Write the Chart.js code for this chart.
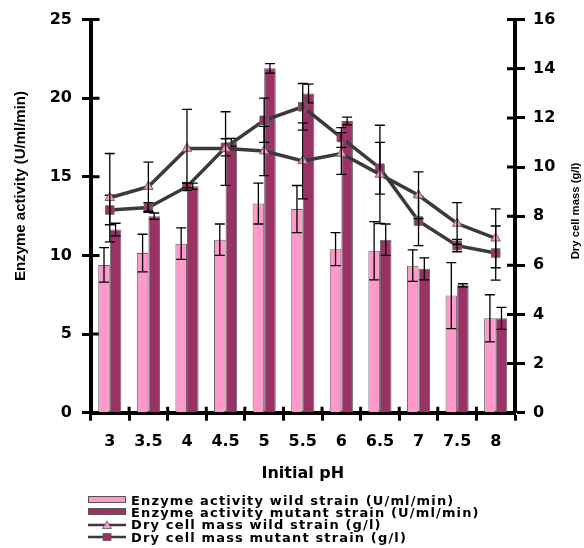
<!DOCTYPE html>
<html lang="en">
<head>
    <meta charset="UTF-8">
    <title>Enzyme activity and dry cell mass vs initial pH</title>
    <style>
        body { margin: 0; background: #fff; }
        #wrap { position: relative; width: 584px; height: 548px; }
        #legend {
            position: absolute; left: 88px; top: 494px;
            font: bold 13px "DejaVu Sans", sans-serif; letter-spacing: 1.15px; color: #000;
        }
        .row { display: flex; align-items: center; height: 12.3px; white-space: nowrap; }
        .row svg { margin-right: 5px; flex: none; }
    </style>
</head>
<body>
<div id="wrap">
    <canvas id="phChart"></canvas>
    <div id="legend"></div>
</div>

<script src="https://cdn.jsdelivr.net/npm/chart.js"></script>
<script>
    // values
    const phLabels = ['3', '3.5', '4', '4.5', '5', '5.5', '6', '6.5', '7', '7.5', '8'];

    const wildActivity      = [9.4, 10.15, 10.75, 11.0, 13.3, 12.95, 10.4, 10.3, 9.35, 7.45, 6.0];
    const wildActivityErr   = [1.1, 1.2, 1.0, 1.0, 1.3, 1.5, 1.05, 1.85, 1.0, 2.1, 1.5];
    const mutantActivity    = [11.65, 12.5, 14.4, 17.2, 21.9, 20.3, 18.55, 11.0, 9.15, 8.1, 6.0];
    const mutantActivityErr = [0.4, 0.2, 0.2, 0.25, 0.3, 0.6, 0.25, 1.0, 0.7, 0.1, 0.7];

    const wildMass      = [8.75, 9.2, 10.75, 10.75, 10.65, 10.25, 10.55, 9.7, 8.85, 7.7, 7.1];
    const wildMassErr   = [1.8, 1.0, 1.6, 1.5, 1.0, 1.55, 0.85, 2.0, 0.95, 0.85, 1.2];
    const mutantMass    = [8.25, 8.35, 9.2, 10.8, 11.9, 12.45, 11.2, 9.95, 7.8, 6.8, 6.5];
    const mutantMassErr = [0.6, 0.2, 0.15, 0.35, 0.9, 0.95, 0.4, 1.05, 1.0, 0.25, 1.1];

    const pink = '#ff99cc';
    const maroon = '#993366';
    const lineGrey = '#3a3a3a';

    // draws the error bars of each dataset right after it
    const errorBars = {
        id: 'errorBars',
        afterDatasetDraw(chart, args) {
            const ds = chart.data.datasets[args.index];
            if (!ds.errors) return;
            const scale = chart.scales[ds.yAxisID || 'y'];
            const ctx = chart.ctx;
            ctx.save();
            ctx.strokeStyle = '#000';
            ctx.lineWidth = 1.3;
            ctx.beginPath();
            args.meta.data.forEach((el, i) => {
                const v = ds.data[i], e = ds.errors[i];
                const top = scale.getPixelForValue(v + e);
                const bot = scale.getPixelForValue(v - e);
                ctx.moveTo(el.x, top); ctx.lineTo(el.x, bot);
                ctx.moveTo(el.x - 5, top); ctx.lineTo(el.x + 5, top);
                ctx.moveTo(el.x - 5, bot); ctx.lineTo(el.x + 5, bot);
            });
            ctx.stroke();
            ctx.restore();
        }
    };

    // tick marks that cross the axis lines
    const innerTicks = {
        id: 'innerTicks',
        beforeDatasetsDraw(chart) {
            const {ctx, chartArea, scales} = chart;
            ctx.save();
            ctx.strokeStyle = '#000';
            ctx.lineWidth = 3;
            ctx.beginPath();
            scales.y.ticks.forEach((t, i) => {
                const py = scales.y.getPixelForTick(i);
                ctx.moveTo(chartArea.left, py); ctx.lineTo(chartArea.left + 9, py);
            });
            scales.y1.ticks.forEach((t, i) => {
                const py = scales.y1.getPixelForTick(i);
                ctx.moveTo(chartArea.right, py); ctx.lineTo(chartArea.right - 8, py);
            });
            for (let i = 0; i <= phLabels.length; i++) {
                const px = scales.x.getPixelForValue(i - 0.5);
                ctx.moveTo(px, chartArea.bottom); ctx.lineTo(px, chartArea.bottom - 6);
            }
            ctx.stroke();
            ctx.restore();
        }
    };

    // axis titles
    const axisTitles = {
        id: 'axisTitles',
        afterDraw(chart) {
            const {ctx, chartArea} = chart;
            ctx.save();
            ctx.fillStyle = '#000';
            ctx.textAlign = 'center';
            ctx.textBaseline = 'middle';
            ctx.font = 'bold 16px "DejaVu Sans"';
            ctx.fillText('Initial pH', (chartArea.left + chartArea.right) / 2, chartArea.bottom + 61);

            ctx.font = 'bold 15px "Liberation Sans"';
            ctx.translate(21, 186);
            ctx.rotate(-Math.PI / 2);
            ctx.fillText('Enzyme activity (U/ml/min)', 0, 0);
            ctx.restore();

            ctx.save();
            ctx.fillStyle = '#000';
            ctx.textAlign = 'center';
            ctx.textBaseline = 'middle';
            ctx.font = 'bold 11.3px "Liberation Sans"';
            ctx.translate(576, 211);
            ctx.rotate(-Math.PI / 2);
            ctx.fillText('Dry cell mass (g/l)', 0, 0);
            ctx.restore();
        }
    };

    Chart.defaults.font.family = '"DejaVu Sans", sans-serif';
    Chart.defaults.font.weight = 'bold';
    Chart.defaults.font.size = 16;
    Chart.defaults.color = '#000';

    const datasets = [
        {
            type: 'bar', label: 'Enzyme activity wild strain (U/ml/min)',
            data: wildActivity, errors: wildActivityErr,
            backgroundColor: pink, borderColor: '#666', borderWidth: 1,
            yAxisID: 'y', order: 2,
            barPercentage: 1, categoryPercentage: 0.6
        },
        {
            type: 'bar', label: 'Enzyme activity mutant strain (U/ml/min)',
            data: mutantActivity, errors: mutantActivityErr,
            backgroundColor: maroon, borderColor: '#666', borderWidth: 1,
            yAxisID: 'y', order: 2,
            barPercentage: 1, categoryPercentage: 0.6
        },
        {
            type: 'line', label: 'Dry cell mass wild strain (g/l)',
            data: wildMass, errors: wildMassErr,
            borderColor: lineGrey, borderWidth: 3.5,
            pointStyle: 'triangle', pointRadius: 5.5,
            pointBackgroundColor: pink, pointBorderColor: '#666', pointBorderWidth: 1,
            yAxisID: 'y1', order: 1
        },
        {
            type: 'line', label: 'Dry cell mass mutant strain (g/l)',
            data: mutantMass, errors: mutantMassErr,
            borderColor: lineGrey, borderWidth: 3.5,
            pointStyle: 'rect', pointRadius: 6,
            pointBackgroundColor: maroon, pointBorderColor: '#666', pointBorderWidth: 1,
            yAxisID: 'y1', order: 1
        }
    ];

    new Chart(document.getElementById('phChart'), {
        data: { labels: phLabels, datasets: datasets },
        options: {
            responsive: true,
            maintainAspectRatio: false,
            animation: false,
            layout: { padding: { top: 19, left: 0, right: 0, bottom: 0 } },
            plugins: { legend: { display: false }, tooltip: { enabled: false } },
            scales: {
                x: {
                    offset: true,
                    grid: { offset: true, drawOnChartArea: false, tickLength: 8, tickWidth: 3, tickColor: '#000' },
                    border: { color: '#000', width: 4 },
                    ticks: { padding: 12, maxRotation: 0 },
                    afterFit: s => { s.height = 135.3; }
                },
                y: {
                    position: 'left', min: 0, max: 25,
                    grid: { drawOnChartArea: false, tickLength: 8.5, tickWidth: 3, tickColor: '#000' },
                    border: { color: '#000', width: 4 },
                    ticks: { stepSize: 5, padding: 10 },
                    afterFit: s => { s.width = 90.5; }
                },
                y1: {
                    position: 'right', min: 0, max: 16,
                    grid: { drawOnChartArea: false, tickLength: 10, tickWidth: 3, tickColor: '#000' },
                    border: { color: '#000', width: 4 },
                    ticks: { stepSize: 2, padding: 8 },
                    afterFit: s => { s.width = 69; }
                }
            }
        },
        plugins: [errorBars, innerTicks, axisTitles]
    });

    // legend as html below the chart
    function legendIcon(ds) {
        if (ds.type === 'bar') {
            return `<svg width="38" height="8"><rect x="0.5" y="0.5" width="37" height="6" fill="${ds.backgroundColor}" stroke="#555"/></svg>`;
        }
        const marker = ds.pointStyle === 'triangle'
            ? `<polygon points="19,1 23.5,8.5 14.5,8.5" fill="${ds.pointBackgroundColor}" stroke="#555" stroke-width="0.8"/>`
            : `<rect x="15" y="1.5" width="8" height="7" fill="${ds.pointBackgroundColor}" stroke="#555" stroke-width="0.8"/>`;
        return `<svg width="38" height="10"><line x1="0" y1="5" x2="38" y2="5" stroke="${lineGrey}" stroke-width="2.5"/>${marker}</svg>`;
    }
    document.getElementById('legend').innerHTML = datasets.map(ds =>
        `<div class="row">${legendIcon(ds)}<span>${ds.label}</span></div>`).join('');
</script>
</body>
</html>
